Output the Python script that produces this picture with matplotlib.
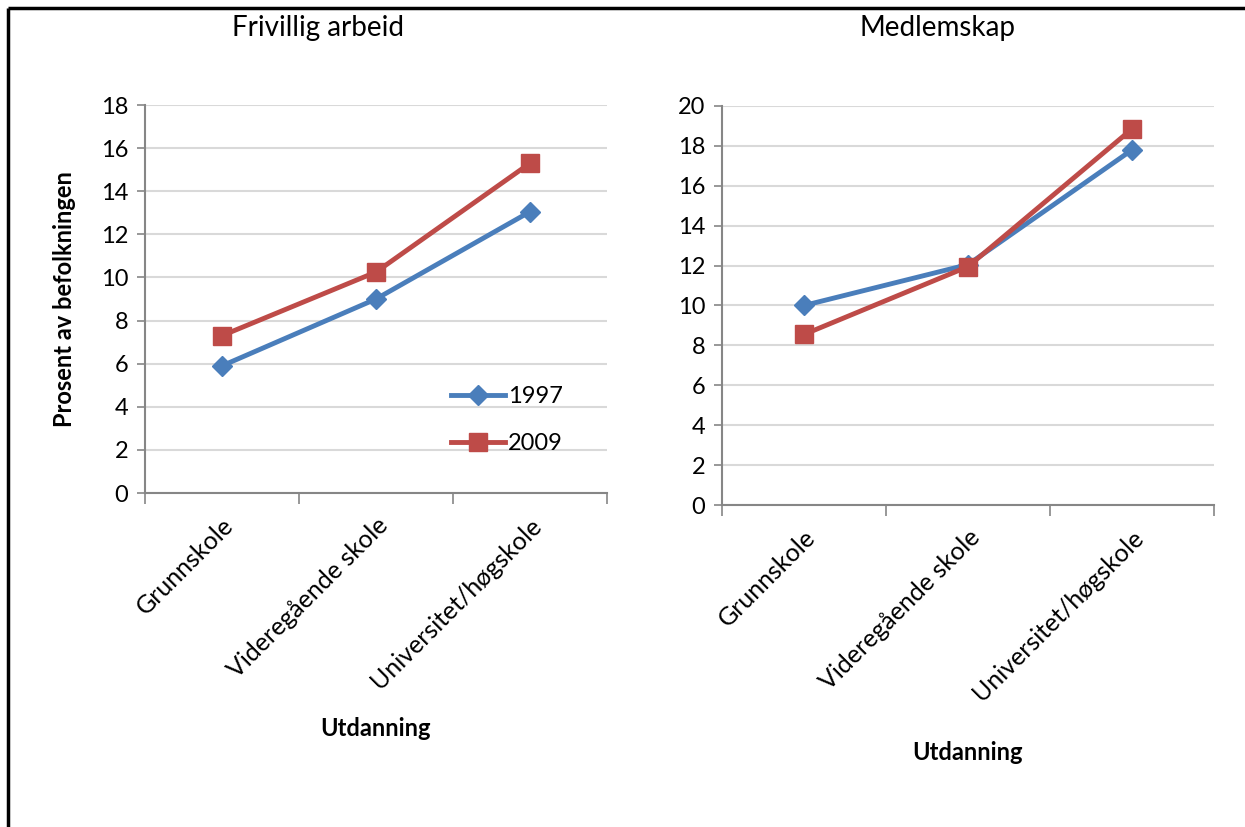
import numpy as np
import matplotlib.pyplot as plt
from matplotlib.lines import Line2D

plt.rcParams['font.family'] = ['Lato', 'DejaVu Sans']

categories = ['Grunnskole', 'Videregående skole', 'Universitet/høgskole']
years = ['1997', '2009']

# Frivillig arbeid
friv_1997 = [5.9, 9.0, 13.05]
friv_2009 = [7.3, 10.25, 15.3]

# Medlemskap
medl_1997 = [10.0, 12.05, 17.8]
medl_2009 = [8.55, 11.95, 18.85]

blue = '#4A7EBB'
red = '#BE4B48'
grid_col = '#D9D9D9'
axis_col = '#868686'

fig = plt.figure(figsize=(12.45, 8.27), dpi=100)

# frame around the figure (only top and left visible in original)
fig.add_artist(Line2D([8/1245, 1.01], [1-8/827, 1-8/827], color='black', lw=2.5,
                      solid_capstyle='butt', transform=fig.transFigure))
fig.add_artist(Line2D([8/1245, 8/1245], [-0.01, 1-8/827], color='black', lw=2.5,
                      solid_capstyle='butt', transform=fig.transFigure))

ax1 = fig.add_axes([145/1245, 1-493/827, 462/1245, 388/827])
ax2 = fig.add_axes([722/1245, 1-505/827, 492/1245, 399/827])


def style(ax, ymax, data97, data09):
    x = np.arange(len(categories))
    ax.plot(x, data97, color=blue, lw=3.5, marker='D', ms=10, label=years[0])
    ax.plot(x, data09, color=red, lw=3.5, marker='s', ms=13, label=years[1])
    ax.set_xlim(-0.5, len(categories) - 0.5)
    ax.set_ylim(0, ymax)
    ax.set_yticks(np.arange(0, ymax + 1, 2))
    ax.yaxis.grid(True, color=grid_col, lw=1.5)
    ax.set_axisbelow(True)
    for s in ['top', 'right']:
        ax.spines[s].set_visible(False)
    for s in ['left', 'bottom']:
        ax.spines[s].set_color(axis_col)
        ax.spines[s].set_linewidth(1.5)
    ax.tick_params(axis='y', colors=axis_col, length=6, width=1.2, labelsize=17,
                   labelcolor='black', pad=6)
    # category tick marks between categories
    ax.set_xticks(np.arange(-0.5, len(categories), 1.0))
    ax.set_xticklabels([])
    ax.tick_params(axis='x', which='major', colors=axis_col, length=8, width=1.2)
    ax.set_xticks(x, minor=True)
    ax.set_xticklabels(categories, minor=True, rotation=45, ha='right', va='top',
                       rotation_mode='anchor', fontsize=18)
    ax.tick_params(axis='x', which='minor', length=0, pad=15, labelcolor='black')


style(ax1, 18, friv_1997, friv_2009)
style(ax2, 20, medl_1997, medl_2009)

fig.text(318/1245, 1-28/827, 'Frivillig arbeid', fontsize=20, ha='center', va='center')
fig.text(937/1245, 1-28/827, 'Medlemskap', fontsize=20, ha='center', va='center')

ax1.set_ylabel('Prosent av befolkningen', fontsize=17, fontweight='bold')
ax1.yaxis.set_label_coords(-0.15, 0.5)
ax1.set_xlabel('Utdanning', fontsize=17, fontweight='bold', labelpad=17)
ax2.set_xlabel('Utdanning', fontsize=17, fontweight='bold', labelpad=26)

ax1.legend(loc='lower right', bbox_to_anchor=(0.95, 0.045), frameon=False, fontsize=17,
           handlelength=2.3, handletextpad=0.1, labelspacing=1.1)

plt.savefig('out.png', dpi=100)
